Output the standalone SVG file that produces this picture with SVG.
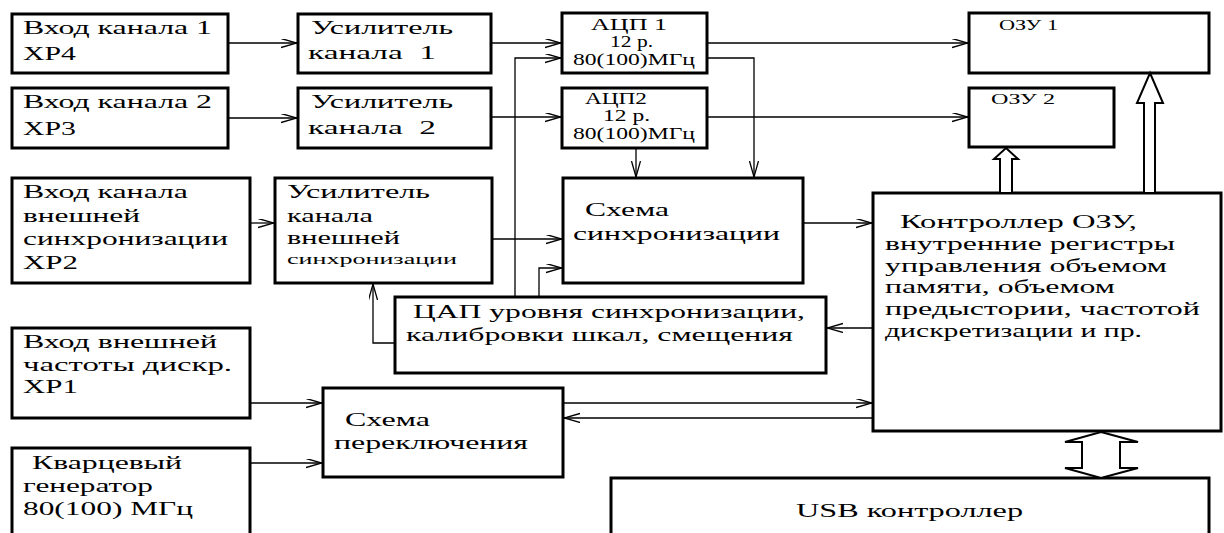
<svg xmlns="http://www.w3.org/2000/svg" width="1224" height="533" viewBox="0 0 1224 533">
<style>
.b{fill:#fff;stroke:#000;stroke-width:3}
.c{fill:none;stroke:#000;stroke-width:1.3}
.h{fill:#fff;stroke:#000;stroke-width:2;stroke-linejoin:miter}
text{font-family:"Liberation Serif","Times New Roman",serif;font-size:19px;fill:#000}
.s{font-size:16px}
.xs{font-size:14px}
.m{font-size:15px}
</style>
<defs>
<marker id="a" markerWidth="18" markerHeight="11" refX="16" refY="4.5" orient="auto" markerUnits="userSpaceOnUse">
<path d="M0,0 L16,4.5 L0,9" fill="none" stroke="#000" stroke-width="1.3"/>
</marker>
</defs>
<rect width="1224" height="533" fill="#fff"/>

<g id="in1"><rect class="b" x="12" y="14" width="216" height="59"/>
<text x="23" y="34" textLength="189" lengthAdjust="spacingAndGlyphs">Вход канала 1</text>
<text x="23" y="60" textLength="53" lengthAdjust="spacingAndGlyphs">XP4</text></g>

<g id="in2"><rect class="b" x="12" y="88" width="216" height="60"/>
<text x="23" y="108" textLength="189" lengthAdjust="spacingAndGlyphs">Вход канала 2</text>
<text x="23" y="135" textLength="53" lengthAdjust="spacingAndGlyphs">XP3</text></g>

<g id="amp1"><rect class="b" x="298" y="14" width="193" height="59"/>
<text x="311" y="34" textLength="142" lengthAdjust="spacingAndGlyphs">Усилитель</text>
<text x="308" y="59" textLength="128" lengthAdjust="spacingAndGlyphs" xml:space="preserve">канала  1</text></g>

<g id="amp2"><rect class="b" x="298" y="88" width="193" height="60"/>
<text x="311" y="108" textLength="142" lengthAdjust="spacingAndGlyphs">Усилитель</text>
<text x="308" y="134" textLength="128" lengthAdjust="spacingAndGlyphs" xml:space="preserve">канала  2</text></g>

<g id="adc1"><rect class="b" x="562" y="13" width="145" height="60"/>
<text class="s" x="591" y="30" textLength="76" lengthAdjust="spacingAndGlyphs">АЦП 1</text>
<text class="s" x="610" y="47" textLength="43" lengthAdjust="spacingAndGlyphs">12 р.</text>
<text class="s" x="573" y="65" textLength="122" lengthAdjust="spacingAndGlyphs">80(100)МГц</text></g>

<g id="adc2"><rect class="b" x="562" y="88" width="145" height="60"/>
<text class="s" x="585" y="104" textLength="62" lengthAdjust="spacingAndGlyphs">АЦП2</text>
<text class="s" x="603" y="121" textLength="47" lengthAdjust="spacingAndGlyphs">12 р.</text>
<text class="s" x="573" y="139" textLength="122" lengthAdjust="spacingAndGlyphs">80(100)МГц</text></g>

<g id="ram1"><rect class="b" x="969" y="13" width="240" height="60"/>
<text class="xs" x="999" y="30" textLength="59" lengthAdjust="spacingAndGlyphs">ОЗУ 1</text></g>

<g id="ram2"><rect class="b" x="969" y="88" width="145" height="59"/>
<text class="xs" x="991" y="104" textLength="64" lengthAdjust="spacingAndGlyphs">ОЗУ 2</text></g>

<g id="insync"><rect class="b" x="12" y="178" width="238" height="105"/>
<text x="23" y="198" textLength="165" lengthAdjust="spacingAndGlyphs">Вход канала</text>
<text x="23" y="222" textLength="117" lengthAdjust="spacingAndGlyphs">внешней</text>
<text x="23" y="245" textLength="205" lengthAdjust="spacingAndGlyphs">синхронизации</text>
<text x="23" y="269" textLength="55" lengthAdjust="spacingAndGlyphs">XP2</text></g>

<g id="ampsync"><rect class="b" x="275" y="178" width="217" height="105"/>
<text x="287" y="198" textLength="143" lengthAdjust="spacingAndGlyphs">Усилитель</text>
<text x="287" y="222" textLength="86" lengthAdjust="spacingAndGlyphs">канала</text>
<text x="287" y="244" textLength="113" lengthAdjust="spacingAndGlyphs">внешней</text>
<text class="m" x="287" y="264" textLength="170" lengthAdjust="spacingAndGlyphs">синхронизации</text></g>

<g id="sync"><rect class="b" x="563" y="178" width="240" height="105"/>
<text x="585" y="216" textLength="84" lengthAdjust="spacingAndGlyphs">Схема</text>
<text x="573" y="240" textLength="207" lengthAdjust="spacingAndGlyphs">синхронизации</text></g>

<g id="ctrl"><rect class="b" x="873" y="193" width="348" height="238"/>
<text x="900" y="228" textLength="237" lengthAdjust="spacingAndGlyphs">Контроллер ОЗУ,</text>
<text x="885" y="250" textLength="290" lengthAdjust="spacingAndGlyphs">внутренние регистры</text>
<text x="885" y="272" textLength="282" lengthAdjust="spacingAndGlyphs">управления объемом</text>
<text x="885" y="293" textLength="230" lengthAdjust="spacingAndGlyphs">памяти, объемом</text>
<text x="885" y="315" textLength="315" lengthAdjust="spacingAndGlyphs">предыстории, частотой</text>
<text x="885" y="337" textLength="257" lengthAdjust="spacingAndGlyphs">дискретизации и пр.</text></g>

<g id="dac"><rect class="b" x="395" y="297" width="431" height="76"/>
<text x="413" y="318" textLength="392" lengthAdjust="spacingAndGlyphs">ЦАП уровня синхронизации,</text>
<text x="406" y="341" textLength="387" lengthAdjust="spacingAndGlyphs">калибровки шкал, смещения</text></g>

<g id="inclk"><rect class="b" x="12" y="328" width="238" height="90"/>
<text x="23" y="348" textLength="194" lengthAdjust="spacingAndGlyphs">Вход внешней</text>
<text x="23" y="371" textLength="209" lengthAdjust="spacingAndGlyphs">частоты дискр.</text>
<text x="23" y="393" textLength="55" lengthAdjust="spacingAndGlyphs">XP1</text></g>

<g id="quartz"><rect class="b" x="12" y="448" width="238" height="100"/>
<text x="32" y="469" textLength="150" lengthAdjust="spacingAndGlyphs">Кварцевый</text>
<text x="23" y="492" textLength="130" lengthAdjust="spacingAndGlyphs">генератор</text>
<text x="23" y="515" textLength="170" lengthAdjust="spacingAndGlyphs">80(100) МГц</text></g>

<g id="switch"><rect class="b" x="323" y="388" width="240" height="89"/>
<text x="345" y="426" textLength="85" lengthAdjust="spacingAndGlyphs">Схема</text>
<text x="334" y="449" textLength="194" lengthAdjust="spacingAndGlyphs">переключения</text></g>

<g id="usb"><rect class="b" x="611" y="478" width="598" height="70"/>
<text x="796" y="517" textLength="227" lengthAdjust="spacingAndGlyphs">USB контроллер</text></g>

<g id="connectors">
<path class="c" marker-end="url(#a)" d="M228,43 H297"/>
<path class="c" marker-end="url(#a)" d="M228,118 H297"/>
<path class="c" marker-end="url(#a)" d="M491,43 H561"/>
<path class="c" marker-end="url(#a)" d="M491,117 H561"/>
<path class="c" marker-end="url(#a)" d="M707,43 H968"/>
<path class="c" marker-end="url(#a)" d="M707,117 H968"/>
<path class="c" marker-end="url(#a)" d="M707,58 H754 V177"/>
<path class="c" marker-end="url(#a)" d="M636,148 V177"/>
<path class="c" marker-end="url(#a)" d="M515,297 V58 H561"/>
<path class="c" marker-end="url(#a)" d="M539,297 V268 H562"/>
<path class="c" marker-end="url(#a)" d="M492,239 H562"/>
<path class="c" marker-end="url(#a)" d="M250,223 H274"/>
<path class="c" marker-end="url(#a)" d="M395,343 H373 V284"/>
<path class="c" marker-end="url(#a)" d="M803,223 H872"/>
<path class="c" marker-end="url(#a)" d="M873,328 H827"/>
<path class="c" marker-end="url(#a)" d="M250,403 H322"/>
<path class="c" marker-end="url(#a)" d="M250,463 H322"/>
<path class="c" marker-end="url(#a)" d="M563,403 H872"/>
<path class="c" marker-end="url(#a)" d="M873,418 H564"/>
<polygon class="h" points="1006,148 1018,159 1012,159 1012,193 1000,193 1000,159 994,159"/>
<polygon class="h" points="1150,73 1163,103 1155,103 1155,193 1144,193 1144,103 1137,103"/>
<polygon class="h" points="1101,432 1138,442 1120,442 1120,468 1138,468 1101,478 1065,468 1082,468 1082,442 1065,442"/>
</g>
</svg>
